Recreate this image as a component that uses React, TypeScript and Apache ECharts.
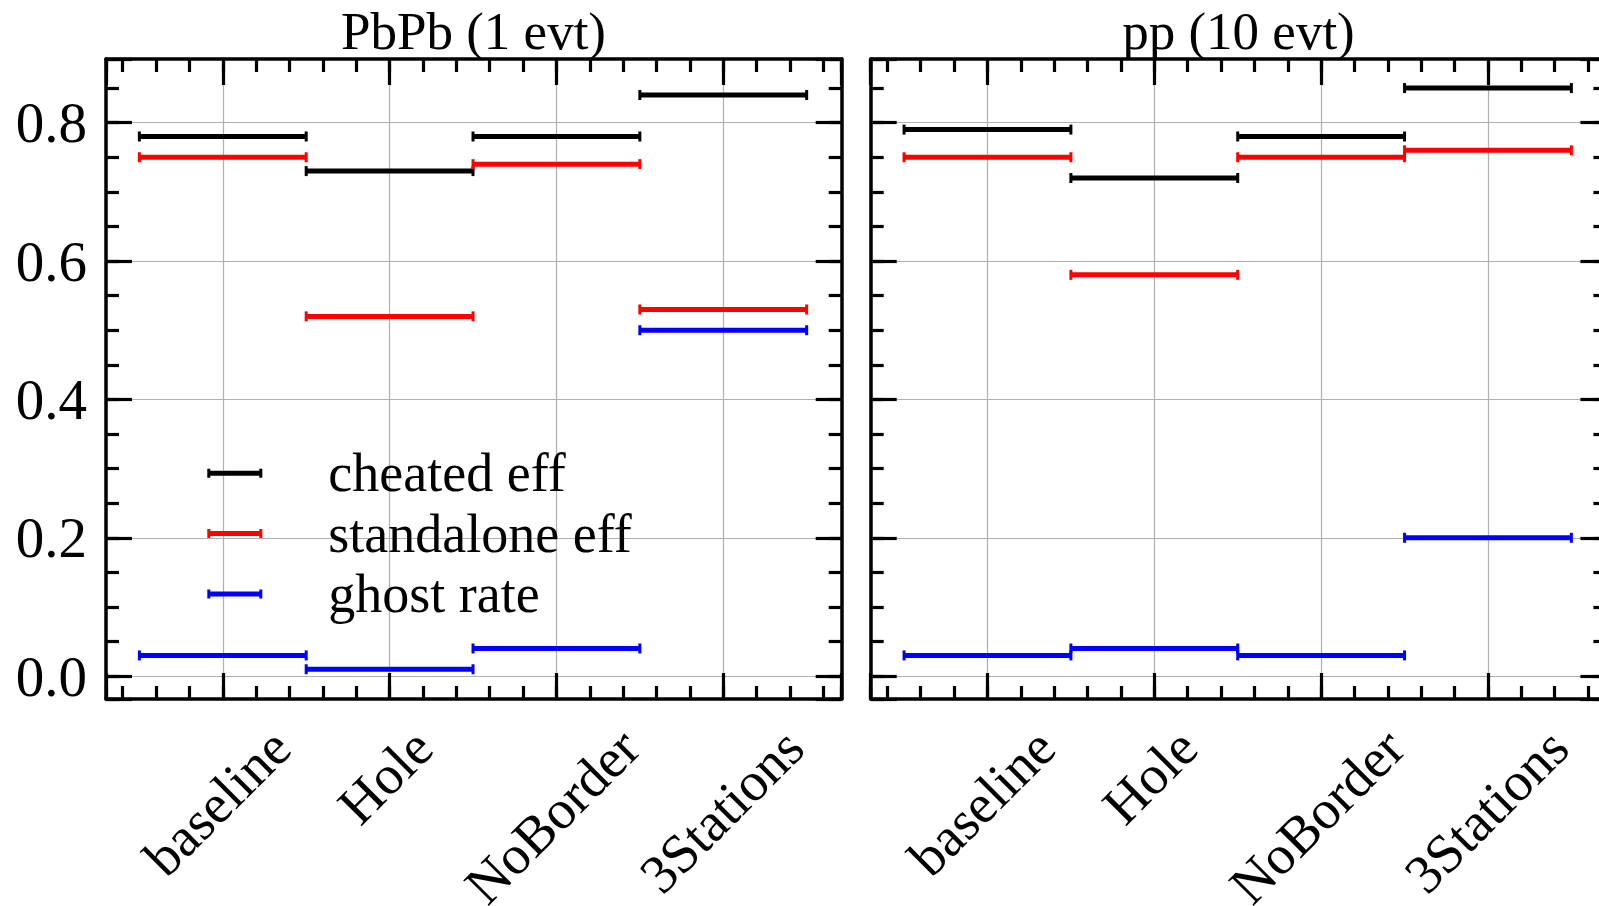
import { useEffect, useRef } from 'react';
import * as echarts from 'echarts';

// ---------------- data ----------------
const categories = ['baseline', 'Hole', 'NoBorder', '3Stations'];
const seriesNames = ['cheated eff', 'standalone eff', 'ghost rate'];
const panelTitles = ['PbPb (1 evt)', 'pp (10 evt)'];
const pbpbCheated = [0.78, 0.73, 0.78, 0.84];
const pbpbStandalone = [0.75, 0.52, 0.74, 0.53];
const pbpbGhost = [0.03, 0.01, 0.04, 0.5];
const ppCheated = [0.79, 0.72, 0.78, 0.85];
const ppStandalone = [0.75, 0.58, 0.75, 0.76];
const ppGhost = [0.03, 0.04, 0.03, 0.2];
const xErr = 0.5;
const yTicks = [0, 0.2, 0.4, 0.6, 0.8];

// ---------------- styles ----------------
const FONT = 'Liberation Serif';
const Y_TICK_FONT = 57;
const X_TICK_FONT = 55;
const COLORS = ['#000000', '#ff0000', '#0000ff'];
const X_MIN = -0.7;
const X_MAX = 3.71;
const Y_MIN = -0.033;
const Y_MAX = 0.892;
const GRIDS = [
  { left: 106, top: 59, width: 735.7, height: 640 },
  { left: 870.7, top: 59, width: 735.7, height: 640 },
];
const TITLE_X = [473.5, 1238.5];
// per-label padding [top, right] to mimic centred rotated labels
const LABEL_PAD = [
  [69.8, 15.2],
  [52.35, 32.65],
  [80.7, 4.3],
  [78.85, 6.15],
];

const panelData = [
  [pbpbCheated, pbpbStandalone, pbpbGhost],
  [ppCheated, ppStandalone, ppGhost],
];

const axisLineStyle = { color: '#000', width: 3.5 };
const gridLineStyle = { color: '#b0b0b0', width: 1.2 };
const majorTick = { show: true, inside: true, length: 26, lineStyle: { color: '#000', width: 3.2 } };
const minorTick = { show: true, inside: true, length: 13, lineStyle: { color: '#000', width: 3.2 } };

const rich: Record<string, any> = {};
LABEL_PAD.forEach((p, i) => {
  rich['l' + i] = {
    fontFamily: FONT,
    fontSize: X_TICK_FONT,
    color: '#000',
    padding: [p[0], p[1], 0, 0],
  };
});

function xFormatter(v: number) {
  const i = Math.round(v);
  if (Math.abs(v - i) > 1e-6 || i < 0 || i >= categories.length) return '';
  return `{l${i}|${categories[i]}}`;
}

function yFormatter(v: number) {
  const hit = yTicks.some((t) => Math.abs(t - v) < 1e-6);
  return hit ? v.toFixed(1) : '';
}

function makeXAxes(g: number) {
  const base = {
    type: 'value',
    gridIndex: g,
    min: X_MIN,
    max: X_MAX,
    axisLine: { show: true, onZero: false, lineStyle: axisLineStyle },
    splitLine: { show: false },
    axisLabel: { show: false },
  };
  return [
    {
      ...base,
      position: 'bottom',
      splitNumber: 4,
      axisTick: majorTick,
      splitLine: { show: true, showMinLine: false, showMaxLine: false, lineStyle: gridLineStyle },
      axisLabel: {
        show: true,
        interval: 0,
        rotate: 45,
        align: 'right',
        verticalAlign: 'top',
        margin: -40,
        fontFamily: FONT,
        fontSize: X_TICK_FONT,
        color: '#000',
        formatter: xFormatter,
        rich,
      },
    },
    { ...base, position: 'bottom', splitNumber: 22, axisLine: { show: false, onZero: false }, axisTick: minorTick },
    { ...base, position: 'top', splitNumber: 4, axisTick: majorTick },
    { ...base, position: 'top', splitNumber: 22, axisLine: { show: false, onZero: false }, axisTick: minorTick },
  ];
}

function makeYAxes(g: number) {
  const base = {
    type: 'value',
    gridIndex: g,
    min: Y_MIN,
    max: Y_MAX,
    axisLine: { show: true, onZero: false, lineStyle: axisLineStyle },
    splitLine: { show: false },
    axisLabel: { show: false },
  };
  return [
    {
      ...base,
      position: 'left',
      splitNumber: 5,
      axisTick: majorTick,
      splitLine: { show: true, showMinLine: false, showMaxLine: false, lineStyle: gridLineStyle },
      axisLabel: {
        show: g === 0,
        margin: 19,
        fontFamily: FONT,
        fontSize: Y_TICK_FONT,
        color: '#000',
        formatter: yFormatter,
      },
    },
    { ...base, position: 'left', splitNumber: 18, axisLine: { show: false, onZero: false }, axisTick: minorTick },
    { ...base, position: 'right', splitNumber: 5, axisTick: majorTick },
    { ...base, position: 'right', splitNumber: 18, axisLine: { show: false, onZero: false }, axisTick: minorTick },
  ];
}

function renderErrorBar(color: string) {
  return (params: any, api: any) => {
    const x = api.value(0);
    const y = api.value(1);
    const a = api.coord([x - xErr, y]);
    const b = api.coord([x + xErr, y]);
    const capH = 5;
    return {
      type: 'group',
      children: [
        { type: 'line', shape: { x1: a[0], y1: a[1], x2: b[0], y2: b[1] }, style: { stroke: color, lineWidth: 5 } },
        { type: 'line', shape: { x1: a[0], y1: a[1] - capH, x2: a[0], y2: a[1] + capH }, style: { stroke: color, lineWidth: 3 } },
        { type: 'line', shape: { x1: b[0], y1: b[1] - capH, x2: b[0], y2: b[1] + capH }, style: { stroke: color, lineWidth: 3 } },
      ],
    };
  };
}

const LEGEND_ICON = 'path://M0,2H55V7H0Z M0,0H3V9H0Z M52,0H55V9H52Z';

function buildOption() {
  const series: any[] = [];
  panelData.forEach((panel, g) => {
    panel.forEach((vals, s) => {
      series.push({
        type: 'custom',
        name: seriesNames[s],
        xAxisIndex: g * 4,
        yAxisIndex: g * 4,
        itemStyle: { color: COLORS[s] },
        renderItem: renderErrorBar(COLORS[s]),
        data: vals.map((v, i) => [i, v]),
        z: 5,
      });
    });
  });

  return {
    animation: false,
    backgroundColor: '#ffffff',
    title: panelTitles.map((t, g) => ({
      text: t,
      left: TITLE_X[g],
      top: 4,
      padding: 0,
      textAlign: 'center',
      textVerticalAlign: 'top',
      textStyle: { fontFamily: FONT, fontSize: 53, fontWeight: 'normal', color: '#000', lineHeight: 53 },
    })),
    legend: {
      orient: 'vertical',
      left: 207.3,
      top: 446.3,
      padding: 0,
      itemGap: 6.3,
      itemWidth: 55,
      itemHeight: 9,
      selectedMode: false,
      data: seriesNames.map((n) => ({ name: n, icon: LEGEND_ICON })),
      textStyle: { fontFamily: FONT, fontSize: 54, color: '#000', lineHeight: 54, padding: [0, 0, 0, 61] },
    },
    grid: GRIDS.map((g) => ({ ...g, containLabel: false, outerBoundsMode: 'none' })),
    xAxis: [...makeXAxes(0), ...makeXAxes(1)],
    yAxis: [...makeYAxes(0), ...makeYAxes(1)],
    series,
  };
}

export default function App() {
  const ref = useRef<HTMLDivElement>(null);
  useEffect(() => {
    if (!ref.current) return;
    const chart = echarts.init(ref.current, undefined, { renderer: 'svg' });
    chart.setOption(buildOption() as any);
    return () => chart.dispose();
  }, []);
  return (
    <div
      ref={ref}
      style={{ position: 'absolute', left: 0, top: 0, width: 1599, height: 906, background: '#fff', overflow: 'hidden' }}
    />
  );
}
